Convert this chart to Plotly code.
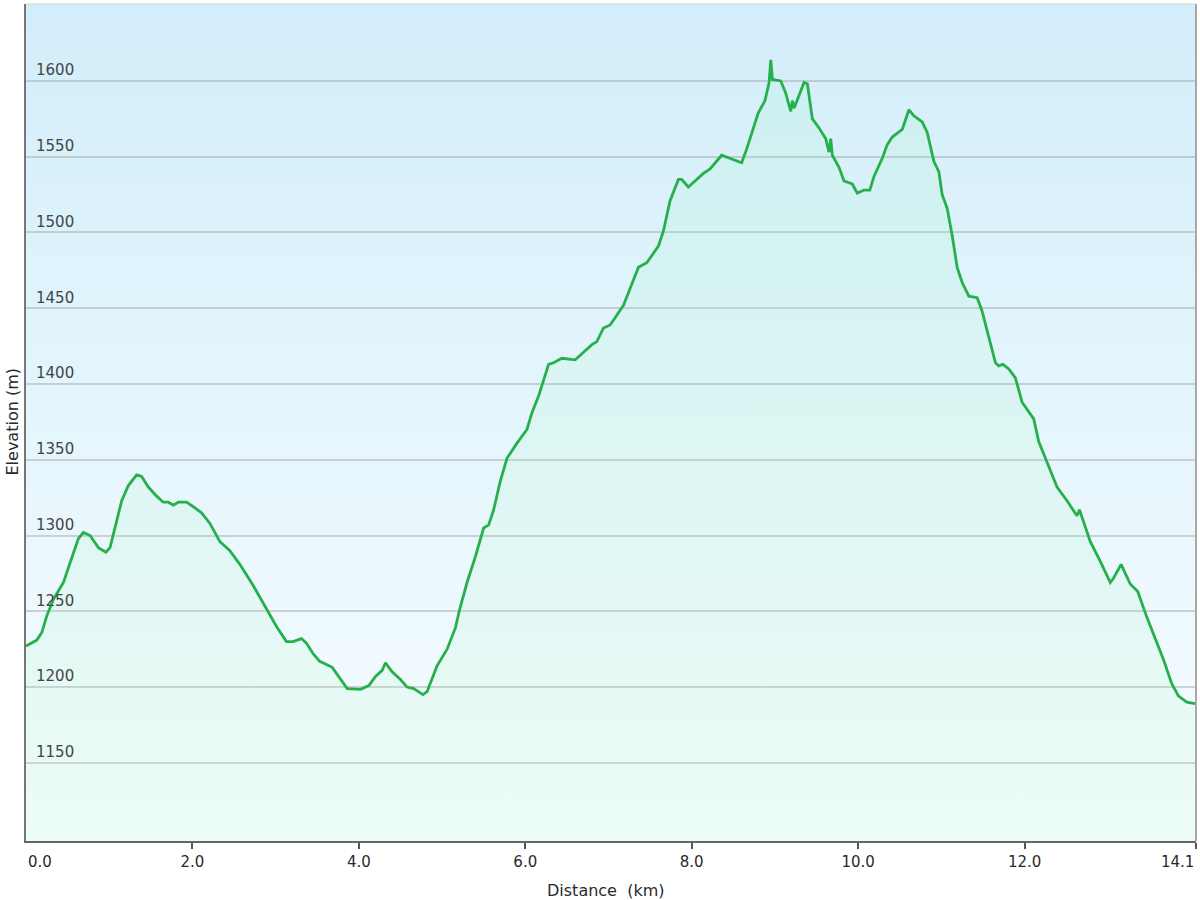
import base64
import plotly.graph_objects as go

# elevation profile
DIST_KM = [
    0.00, 0.13, 0.19, 0.25, 0.33, 0.45, 0.53, 0.63, 0.69, 0.77, 0.87, 0.96, 1.01, 1.07, 1.15,
    1.23, 1.33, 1.39, 1.47, 1.57, 1.65, 1.71, 1.77, 1.83, 1.93, 2.01, 2.11, 2.21, 2.33, 2.45,
    2.57, 2.73, 2.89, 3.01, 3.13, 3.21, 3.31, 3.37, 3.45, 3.53, 3.68, 3.76, 3.86, 4.02, 4.12,
    4.20, 4.28, 4.32, 4.40, 4.50, 4.58, 4.66, 4.77, 4.82, 4.94, 5.06, 5.16, 5.21, 5.30, 5.40,
    5.50, 5.56, 5.62, 5.70, 5.78, 5.90, 6.02, 6.08, 6.16, 6.28, 6.34, 6.44, 6.60, 6.72, 6.80,
    6.86, 6.94, 7.02, 7.18, 7.36, 7.46, 7.60, 7.66, 7.74, 7.84, 7.88, 7.96, 8.14, 8.22, 8.36,
    8.50, 8.60, 8.66, 8.74, 8.80, 8.88, 8.93, 8.95, 8.97, 9.07, 9.13, 9.19, 9.21, 9.23, 9.35,
    9.39, 9.45, 9.53, 9.61, 9.65, 9.67, 9.69, 9.77, 9.83, 9.93, 9.99, 10.07, 10.14, 10.19, 10.29,
    10.35, 10.41, 10.53, 10.61, 10.67, 10.77, 10.83, 10.91, 10.97, 11.01, 11.07, 11.13, 11.19, 11.25,
    11.33, 11.43, 11.49, 11.57, 11.65, 11.69, 11.74, 11.81, 11.89, 11.97, 12.11, 12.17, 12.27, 12.39,
    12.51, 12.57, 12.63, 12.66, 12.79, 12.91, 13.03, 13.07, 13.16, 13.27, 13.36, 13.47, 13.59, 13.67,
    13.77, 13.85, 13.95, 14.05,
]
ELEV_M = [
    1227, 1231, 1236, 1247, 1258, 1269, 1282, 1298, 1302, 1300, 1292, 1289, 1292, 1306, 1323,
    1333, 1340, 1339, 1332, 1326, 1322, 1322, 1320, 1322, 1322, 1319, 1315, 1308, 1296, 1290,
    1281, 1267, 1252, 1240, 1230, 1230, 1232, 1229, 1222, 1217, 1213, 1207, 1199, 1198.5, 1201,
    1207, 1211, 1216, 1210, 1205, 1200, 1199, 1195, 1197, 1214, 1225, 1239, 1251, 1269, 1286,
    1305, 1307, 1317, 1336, 1351, 1361, 1370, 1381, 1392, 1413, 1414, 1417, 1416, 1422, 1426,
    1428, 1437, 1439, 1452, 1477, 1480, 1491, 1501, 1521, 1535, 1535, 1530, 1539, 1542, 1551,
    1548, 1546, 1555, 1569, 1579, 1587, 1599, 1614, 1601, 1600, 1592, 1580, 1587, 1582, 1599,
    1598, 1575, 1569, 1562, 1553, 1562, 1551, 1543, 1534, 1532, 1526, 1528, 1528, 1537, 1549,
    1558, 1563, 1568, 1581, 1577, 1573, 1566, 1547, 1540, 1525, 1516, 1498, 1477, 1467,
    1458, 1457, 1448, 1431, 1414, 1412, 1413, 1410, 1404, 1388, 1377, 1362, 1348, 1332,
    1323, 1318, 1313, 1317, 1296, 1283, 1269, 1272, 1281, 1268, 1263, 1246, 1229, 1218,
    1202, 1194, 1190, 1189,
]

X_TICKS = [0, 2, 4, 6, 8, 10, 12, 14.06]
X_LABELS = ["0.0", "2.0", "4.0", "6.0", "8.0", "10.0", "12.0", "14.1"]
Y_TICKS = [1150, 1200, 1250, 1300, 1350, 1400, 1450, 1500, 1550, 1600]

X_RANGE = [0, 14.06]
Y_RANGE = [1098.4, 1650.8]

FONT = "DejaVu Sans"
TXT = "#2a2a2a"

# vertical sky gradient for the plot background
svg = ('<svg xmlns="http://www.w3.org/2000/svg" width="10" height="100" preserveAspectRatio="none">'
       '<defs><linearGradient id="g" x1="0" y1="0" x2="0" y2="1">'
       '<stop offset="0" stop-color="#d2eefa"/><stop offset="1" stop-color="#f8fdff"/>'
       '</linearGradient></defs><rect width="10" height="100" fill="url(#g)"/></svg>')
bg_src = "data:image/svg+xml;base64," + base64.b64encode(svg.encode()).decode()

fig = go.Figure()
fig.add_trace(go.Scatter(
    x=DIST_KM, y=ELEV_M,
    mode="lines",
    line=dict(color="#25b04b", width=2.8),
    fill="tozeroy",
    fillcolor="rgba(150,250,170,0.11)",
    hoverinfo="x+y",
    showlegend=False,
))

fig.update_layout(
    width=1200, height=900,
    margin=dict(l=26, r=4, t=4, b=59),
    paper_bgcolor="white",
    plot_bgcolor="#e5f5fb",
    font=dict(family=FONT, size=15, color=TXT),
    images=[dict(source=bg_src, xref="paper", yref="paper", x=0, y=1,
                 sizex=1, sizey=1, sizing="stretch", xanchor="left", yanchor="top",
                 layer="below")],
    xaxis=dict(
        range=X_RANGE, tickvals=X_TICKS,
        ticktext=[""] + X_LABELS[1:-1] + [""],
        showgrid=False, zeroline=False,
        ticks="outside", ticklen=6, tickwidth=2, tickcolor="#555",
        showline=True, linecolor="#666", linewidth=2,
    ),
    yaxis=dict(
        range=Y_RANGE, tickvals=Y_TICKS,
        ticklabelposition="inside", ticklabelshift=-11, ticklabelstandoff=10,
        ticks="", showgrid=True, gridcolor="rgba(165,170,172,0.5)", gridwidth=2,
        zeroline=False, showline=True, linecolor="#777", linewidth=2,
    ),
    shapes=[
        dict(type="line", xref="paper", yref="paper", x0=0, x1=1, y0=1, y1=1,
             line=dict(color="#d0d0d0", width=1)),
        dict(type="line", xref="paper", yref="paper", x0=1, x1=1, y0=0, y1=1,
             line=dict(color="#a8a8a8", width=2)),
    ],
    annotations=[
        dict(text=X_LABELS[0], x=X_TICKS[0], xref="x", y=0, yref="paper",
             xanchor="left", yanchor="top", yshift=-10, showarrow=False),
        dict(text=X_LABELS[-1], x=X_TICKS[-1], xref="x", y=0, yref="paper",
             xanchor="right", yanchor="top", yshift=-10, showarrow=False),
        dict(text="Distance\u00a0 (km)", x=0.5, xref="paper", y=0, yref="paper",
             xanchor="center", yanchor="middle", yshift=-49, xshift=-6,
             font=dict(size=16), showarrow=False),
        dict(text="Elevation (m)", x=0, xref="paper", y=0.5, yref="paper",
             xanchor="center", yanchor="middle", xshift=-14, textangle=-90,
             font=dict(size=16), showarrow=False),
    ],
)

fig.write_html("out.html", config={"displayModeBar": False},
               post_script="document.body.style.margin='0';")
